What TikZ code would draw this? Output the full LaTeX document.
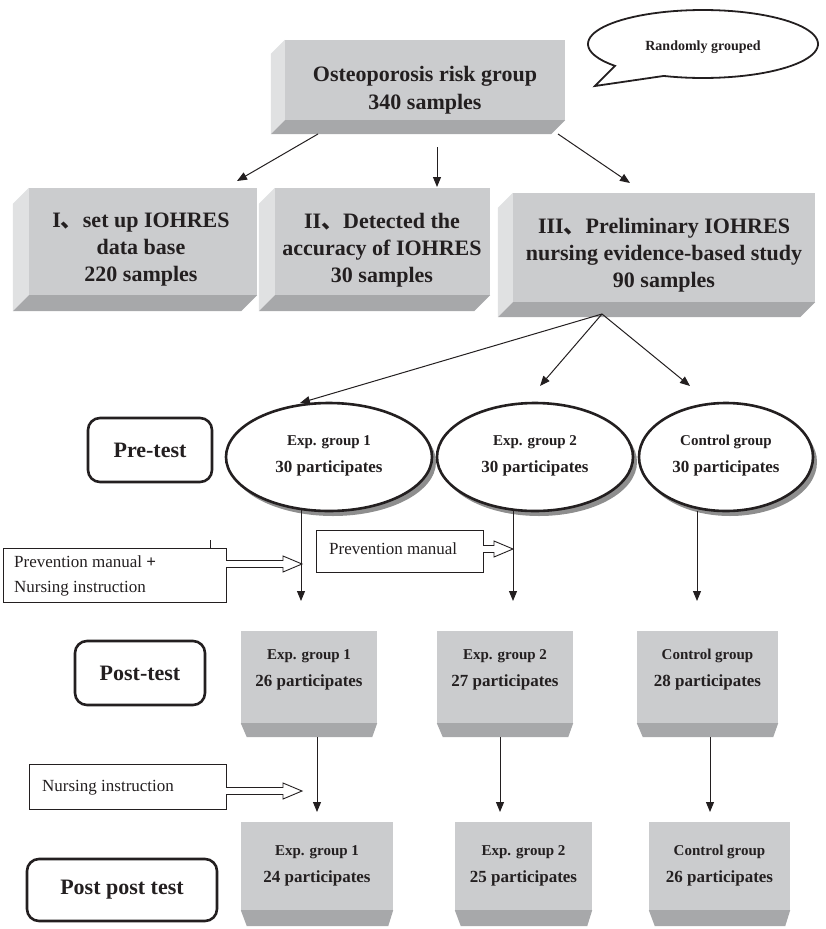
\documentclass[tikz,border=0pt]{standalone}
\usepackage{fontspec}
\setmainfont{Liberation Serif}
\newfontfamily\cjk{Noto Sans CJK SC}
\usetikzlibrary{arrows.meta,shapes.geometric,calc}
\definecolor{facec}{HTML}{CBCCCE}
\definecolor{sidec}{HTML}{E0E1E2}
\definecolor{botc}{HTML}{A7A8AA}
\definecolor{ink}{HTML}{231F20}
\definecolor{shadc}{HTML}{8E8E8E}
% 3D box extruded to lower left: name, cx, cy, w, h, depth
\newcommand\threed[6]{%
  \node[fill=facec, inner sep=0pt, minimum width=#4pt, minimum height=#5pt] (#1) at (#2,#3) {};
  \fill[sidec] (#1.north west) -- (#1.south west) -- ++(-#6,#6) -- ($(#1.north west)+(-#6,#6)$) -- cycle;
  \fill[botc] (#1.south west) -- (#1.south east) -- ++(-#6,#6) -- ($(#1.south west)+(-#6,#6)$) -- cycle;}
% flat box with bottom bevel: name, cx, cy, w, h, bevel
\newcommand\flatbox[6]{%
  \node[fill=facec, inner sep=0pt, minimum width=#4pt, minimum height=#5pt] (#1) at (#2,#3) {};
  \fill[botc] (#1.south west) -- (#1.south east) -- ++(-5,#6) -- ($(#1.south west)+(6,#6)$) -- cycle;}
% hollow arrow: x start, x tip, y centre
\newcommand\hollowarrow[3]{%
  \draw[ink, line width=0.9pt, fill=white] (#1,{#3-3.5}) -- ({#2-19},{#3-3.5}) -- ({#2-19},{#3-8}) -- (#2,#3) -- ({#2-19},{#3+8}) -- ({#2-19},{#3+3.5}) -- (#1,{#3+3.5});}
\begin{document}
\begin{tikzpicture}[x=1pt,y=-1pt,
  big/.style={font=\fontsize{22}{27}\selectfont\bfseries, text=ink, align=center, inner sep=0pt},
  arr/.style={draw=ink, line width=1pt, -{Triangle[length=10pt,width=8pt]}},
  rbox/.style={draw=ink, line width=2.6pt, rounded corners=12pt, font=\fontsize{22}{27}\selectfont\bfseries, text=ink, inner sep=0pt},
  plain/.style={draw=ink, line width=0.9pt, inner sep=0pt},
  ptext/.style={font=\fontsize{17}{20}\selectfont, text=ink, anchor=west, inner sep=0pt},
  grp/.style={font=\fontsize{15}{27}\selectfont\bfseries, text=ink, align=center, inner sep=0pt},
  oval/.style={ellipse, draw=ink, line width=2.6pt, fill=white, inner sep=0pt}]
\useasboundingbox (0,0) rectangle (825,929);

% speech bubble
\draw[ink, line width=1.8pt, fill=white] plot[domain=140:470, samples=90] ({703+115*cos(\x)},{44+34*sin(\x)}) -- (595,86) -- cycle;
\node[font=\fontsize{14}{16}\selectfont\bfseries, text=ink] (rg) at (703,47) {Randomly grouped};

% top box
\threed{top}{425}{80}{280}{80}{14}
\node[big, font=\fontsize{22}{28}\selectfont\bfseries] (toptxt) at (425,90) {Osteoporosis risk group\\340 samples};

% level 2 boxes
\threed{b1}{143}{241.5}{228}{107}{16}
\node[big] (b1t) at (141,250) {I{\cjk 、}set up IOHRES\\data base\\220 samples};
\threed{b2}{382.5}{241.5}{215}{107}{16}
\node[big] (b2t) at (382,250) {II{\cjk 、}Detected the\\accuracy of IOHRES\\30 samples};
\threed{b3}{664}{247.5}{302}{109}{15}
\node[big] (b3t) at (664,255) {III{\cjk 、}Preliminary IOHRES\\nursing evidence-based study\\90 samples};

% arrows from top
\coordinate (t1s) at (318,134); \coordinate (t1e) at (237,181);
\coordinate (t2s) at (437,147); \coordinate (t2e) at (437,187);
\coordinate (t3s) at (558,134); \coordinate (t3e) at (630,183);
\draw[arr] (t1s) -- (t1e);
\draw[arr] (t2s) -- (t2e);
\draw[arr] (t3s) -- (t3e);

% ellipses
\fill[shadc] (333,462) ellipse [x radius=103, y radius=54];
\node[oval, minimum width=206pt, minimum height=108pt] (e1) at (329,457) {};
\node[grp] (e1t) at (329,456) {Exp. group 1\\{\fontsize{17}{27}\selectfont 30 participates}};
\fill[shadc] (539,462) ellipse [x radius=98, y radius=54];
\node[oval, minimum width=196pt, minimum height=108pt] (e2) at (535,457) {};
\node[grp] (e2t) at (535,456) {Exp. group 2\\{\fontsize{17}{27}\selectfont 30 participates}};
\fill[shadc] (730,462) ellipse [x radius=87, y radius=54];
\node[oval, minimum width=174pt, minimum height=108pt] (e3) at (726,457) {};
\node[grp] (e3t) at (726,456) {Control group\\{\fontsize{17}{27}\selectfont 30 participates}};

\node[rbox, minimum width=124pt, minimum height=64pt] (pre) at (150,450) {Pre-test};

% arrows from box III
\coordinate (ap) at (602,314);
\coordinate (a1) at (300,403);
\coordinate (a2) at (540,386);
\coordinate (a3) at (690,386);
\draw[arr] (ap) -- (a1);
\draw[arr] (ap) -- (a2);
\draw[arr] (ap) -- (a3);

% intervention boxes
\node[plain, minimum width=223pt, minimum height=54pt] (lb1) at (114.5,575) {};
\coordinate (tick) at (210,540);
\draw[ink, line width=0.8pt] (tick) -- (tick |- lb1.north);
\node[ptext] (lb1a) at (14,562) {Prevention manual \textbf{+}};
\node[ptext] (lb1b) at (14,589) {Nursing instruction};
\node[plain, minimum width=167pt, minimum height=42pt] (mb) at (399.5,551) {};
\node[ptext] (mbt) at (329,549) {Prevention manual};
\hollowarrow{226}{302}{564}
\hollowarrow{483}{513}{549}

% down arrows from ellipses
\coordinate (d1s) at (301,509); \coordinate (d1e) at (301,601);
\coordinate (d2s) at (513,510); \coordinate (d2e) at (513,601);
\coordinate (d3s) at (697,511); \coordinate (d3e) at (697,601);
\draw[arr] (d1s) -- (d1e);
\draw[arr] (d2s) -- (d2e);
\draw[arr] (d3s) -- (d3e);

% post-test
\flatbox{p1}{309}{677}{136}{92}{14}
\node[grp] (p1t) at (309,670) {Exp. group 1\\{\fontsize{17}{27}\selectfont 26 participates}};
\flatbox{p2}{505}{677}{136}{92}{14}
\node[grp] (p2t) at (505,670) {Exp. group 2\\{\fontsize{17}{27}\selectfont 27 participates}};
\flatbox{p3}{707.5}{677}{141}{92}{14}
\node[grp] (p3t) at (707.5,670) {Control group\\{\fontsize{17}{27}\selectfont 28 participates}};
\node[rbox, minimum width=130pt, minimum height=64pt] (post) at (140,673) {Post-test};

% nursing instruction box
\node[plain, minimum width=197pt, minimum height=45pt] (nb) at (127.5,786.5) {};
\node[ptext] (nbt) at (42,788) {Nursing instruction};
\hollowarrow{226}{302}{791}

% down arrows from post-test
\coordinate (f1s) at (317,737); \coordinate (f1e) at (317,812);
\coordinate (f2s) at (500,737); \coordinate (f2e) at (500,812);
\coordinate (f3s) at (710,737); \coordinate (f3e) at (710,812);
\draw[arr] (f1s) -- (f1e);
\draw[arr] (f2s) -- (f2e);
\draw[arr] (f3s) -- (f3e);

% post post test
\flatbox{q1}{317}{866}{152}{88}{16}
\node[grp] (q1t) at (317,866) {Exp. group 1\\{\fontsize{17}{27}\selectfont 24 participates}};
\flatbox{q2}{523.5}{866}{137}{88}{16}
\node[grp] (q2t) at (523.5,866) {Exp. group 2\\{\fontsize{17}{27}\selectfont 25 participates}};
\flatbox{q3}{719.5}{866}{141}{88}{16}
\node[grp] (q3t) at (719.5,866) {Control group\\{\fontsize{17}{27}\selectfont 26 participates}};
\node[rbox, minimum width=190pt, minimum height=62pt] (pp) at (122,890) {Post post test};
\end{tikzpicture}
\end{document}
